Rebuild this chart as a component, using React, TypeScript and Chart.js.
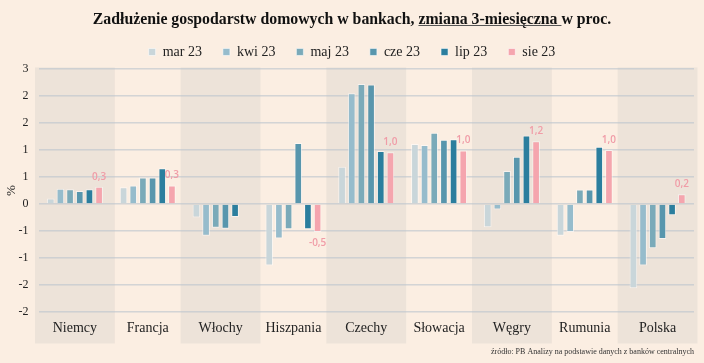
import React, { useEffect, useRef } from "react";
import { Chart, registerables } from "chart.js";

Chart.register(...registerables);

const categories = ["Niemcy", "Francja", "Włochy", "Hiszpania", "Czechy", "Słowacja", "Węgry", "Rumunia", "Polska"];
const seriesNames = ["mar 23", "kwi 23", "maj 23", "cze 23", "lip 23", "sie 23"];
const mar23 = [0.10, 0.31, -0.25, -1.14, 0.69, 1.11, -0.43, -0.59, -1.56];
const kwi23 = [0.28, 0.34, -0.59, -0.64, 2.05, 1.09, -0.10, -0.52, -1.14];
const maj23 = [0.275, 0.49, -0.44, -0.47, 2.22, 1.32, 0.61, 0.27, -0.82];
const cze23 = [0.24, 0.49, -0.46, 1.13, 2.21, 1.19, 0.875, 0.27, -0.65];
const lip23 = [0.275, 0.66, -0.24, -0.47, 0.98, 1.20, 1.27, 1.06, -0.21];
const sie23 = [0.32, 0.34, null, -0.52, 0.96, 0.99, 1.16, 1.00, 0.18];
const yTickLabels = ["-2", "-2", "-1", "-1", "0", "1", "1", "2", "2", "3"];
const titlePrefix = "Zadłużenie gospodarstw domowych w bankach, ";
const titleUnderlined = "zmiana 3-miesięczna ";
const titleSuffix = "w proc.";
const sourceText = "źródło: PB Analizy na podstawie danych z banków centralnych";

const colors = ["#c9d6da", "#96bccc", "#7aaab9", "#5896ad", "#2b7e9e", "#f5a5ae"];
const BG = "#fbeee2";
const BAND = "#ede3d9";
const SERIF = '"Liberation Serif", "Times New Roman", serif';
const TITLE_SIZE = 15.8;
const TITLE_PAD_TOP = 10;

const bgPlugin = {
  id: "bgBands",
  beforeDraw(chart: any) {
    const { ctx, chartArea } = chart;
    const x = chart.scales.x;
    ctx.save();
    ctx.fillStyle = BG;
    ctx.fillRect(0, 0, chart.width, chart.height);
    const step = (chartArea.right - chartArea.left) / categories.length;
    ctx.fillStyle = BAND;
    for (let i = 0; i < categories.length; i += 2) {
      const c = x.getPixelForValue(i);
      ctx.fillRect(c - step / 2 - 3.5, chartArea.top - 1.5, step + 7, chartArea.bottom + 33 - chartArea.top);
    }
    ctx.restore();
  },
};

const labelPlugin = {
  id: "lastLabels",
  afterDatasetsDraw(chart: any) {
    const { ctx } = chart;
    const di = seriesNames.length - 1;
    const meta = chart.getDatasetMeta(di);
    ctx.save();
    ctx.font = '600 10px "Open Sans", sans-serif';
    ctx.fillStyle = "#f09ca7";
    ctx.textAlign = "center";
    ctx.textBaseline = "middle";
    meta.data.forEach((bar: any, i: number) => {
      const v = sie23[i];
      if (v === null || v === undefined) return;
      const txt = v.toFixed(1).replace(".", ",");
      const y = v >= 0 ? bar.y - 10 : bar.y + 11;
      ctx.fillText(txt, bar.x, y);
    });
    ctx.restore();
  },
};

const underlinePlugin = {
  id: "titleUnderline",
  afterDraw(chart: any) {
    const tb = chart.titleBlock;
    if (!tb) return;
    const { ctx } = chart;
    ctx.save();
    ctx.font = `bold ${TITLE_SIZE}px ${SERIF}`;
    const full = titlePrefix + titleUnderlined + titleSuffix;
    const W = ctx.measureText(full).width;
    const p = ctx.measureText(titlePrefix).width;
    const u = ctx.measureText(titleUnderlined).width;
    const cx = (tb.left + tb.right) / 2;
    const cy = tb.top + TITLE_PAD_TOP + (TITLE_SIZE * 1.2) / 2;
    const x0 = cx - W / 2 + p;
    const y = Math.round(cy + 6) + 0.5;
    ctx.strokeStyle = "#555";
    ctx.lineWidth = 1;
    ctx.beginPath();
    ctx.moveTo(x0, y);
    ctx.lineTo(x0 + u, y);
    ctx.stroke();
    ctx.restore();
  },
};

export default function App() {
  const ref = useRef<HTMLCanvasElement | null>(null);
  useEffect(() => {
    if (!ref.current) return;
    const series = [mar23, kwi23, maj23, cze23, lip23, sie23];
    const chart = new Chart(ref.current, {
      type: "bar",
      data: {
        labels: categories,
        datasets: series.map((d, i) => ({
          label: seriesNames[i],
          data: d as any,
          backgroundColor: colors[i],
          borderColor: "rgba(255,255,255,0.55)",
          borderWidth: 1,
          categoryPercentage: 0.797,
          barPercentage: 0.79,
        })),
      },
      options: {
        animation: false,
        responsive: true,
        maintainAspectRatio: false,
        layout: { padding: { left: 10, right: 10, top: 0, bottom: 0 } },
        plugins: {
          title: {
            display: true,
            text: titlePrefix + titleUnderlined + titleSuffix,
            color: "#111",
            font: { family: SERIF, size: TITLE_SIZE, weight: "bold" },
            padding: { top: TITLE_PAD_TOP, bottom: -5 },
          },
          subtitle: {
            display: true,
            text: sourceText,
            position: "bottom",
            align: "end",
            color: "#333",
            font: { family: SERIF, size: 8 },
            padding: { top: 9.2, bottom: 6.2 },
          },
          legend: {
            display: true,
            position: "top",
            labels: {
              boxWidth: 7,
              boxHeight: 7,
              color: "#222",
              font: { family: SERIF, size: 14 },
              padding: 21,
            },
          },
          tooltip: { enabled: false },
        },
        scales: {
          x: {
            grid: { display: false, drawTicks: false },
            border: { display: false },
            ticks: { color: "#222", font: { family: SERIF, size: 14 }, padding: 7.6 },
            afterFit: (scale: any) => {
              scale.height = 26;
            },
          },
          y: {
            min: -2,
            max: 2.5,
            border: { display: false },
            grid: { color: "rgba(185,195,205,0.6)", lineWidth: 1.5, drawTicks: false },
            title: { display: true, text: "%", color: "#222", font: { family: SERIF, size: 13 }, padding: { top: -6, bottom: 0 } },
            ticks: {
              stepSize: 0.5,
              color: "#222",
              font: { family: SERIF, size: 12 },
              padding: 10,
              callback: (_v: any, idx: number) => yTickLabels[idx],
            },
            afterFit: (scale: any) => {
              scale.width = 28.5;
            },
          },
        },
      },
      plugins: [bgPlugin, labelPlugin, underlinePlugin],
    });
    return () => chart.destroy();
  }, []);
  return (
    <div style={{ position: "fixed", left: 0, top: 0, width: 704, height: 363, background: BG }}>
      <canvas ref={ref} style={{ width: "100%", height: "100%" }} />
    </div>
  );
}
